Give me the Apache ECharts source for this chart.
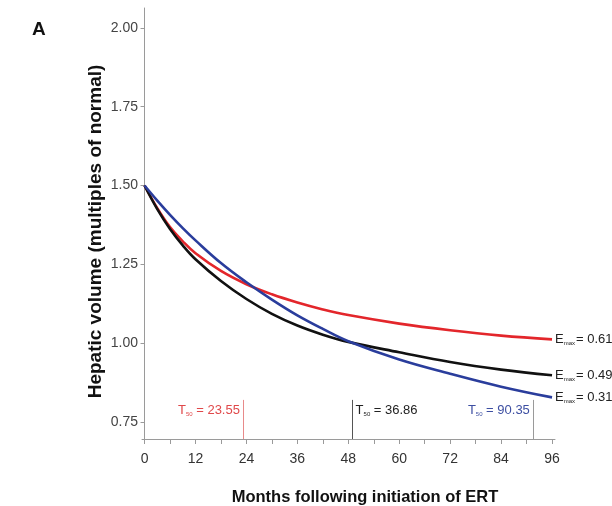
<!DOCTYPE html>
<html lang="en">
<head>
<meta charset="UTF-8">
<title>Hepatic volume Emax model</title>
<style>
  html, body { margin: 0; padding: 0; background: #fff; }
  #main { width: 612px; height: 506px; }
</style>
</head>
<body>
<div id="main"></div>
<script src="https://cdn.jsdelivr.net/npm/echarts@6/dist/echarts.min.js"></script>
<script>
// values
const months = [0, 3, 6, 9, 12, 18, 24, 30, 36, 42, 48, 60, 72, 84, 96];
const redVol   = [1.50, 1.428, 1.368, 1.323, 1.285, 1.229, 1.187, 1.155, 1.129, 1.107, 1.089, 1.062, 1.041, 1.024, 1.012];
const blackVol = [1.50, 1.425, 1.362, 1.310, 1.266, 1.197, 1.140, 1.093, 1.056, 1.027, 1.004, 0.971, 0.940, 0.916, 0.898];
const blueVol  = [1.50, 1.452, 1.407, 1.365, 1.326, 1.254, 1.193, 1.138, 1.088, 1.045, 1.006, 0.948, 0.903, 0.862, 0.828];

const emaxLabels = ['0.61', '0.49', '0.31'];
const t50Labels = ['23.55', '36.86', '90.35'];
const t50Marks = [23.3, 48.9, 91.6];   // where the marker lines sit on the x axis
const t50Top = 0.82;
const t50TextY = 0.788;

const yTicks = [0.75, 1.00, 1.25, 1.50, 1.75, 2.00];
const xLabels = [0, 12, 24, 36, 48, 60, 72, 84, 96];
const xTicks = [0, 6, 12, 18, 24, 30, 36, 42, 48, 54, 60, 66, 72, 78, 84, 90, 96];

const yMin = 0.696, yMax = 2.063;
const SANS = "'Liberation Sans', Arial, sans-serif";

function pairs(vals) {
    return months.map((m, i) => [m, vals[i]]);
}

function makeSeries(name, vals, color, textColor, markColor, idx, side) {
    return {
        name: name,
        type: 'line',
        data: pairs(vals),
        smooth: 0.4,
        symbol: 'none',
        lineStyle: { color: color, width: 2.6 },
        endLabel: {
            show: true,
            distance: 3,
            formatter: '{e|E}{s|max}{v|= ' + emaxLabels[idx] + '}',
            rich: {
                e: { fontSize: 13, fontFamily: SANS, color: '#222' },
                s: { fontSize: 6, fontFamily: SANS, color: '#222', padding: [8, 1, 0, 0] },
                v: { fontSize: 13, fontFamily: SANS, color: '#222' }
            }
        },
        markLine: {
            silent: true,
            symbol: 'none',
            label: { show: false },
            lineStyle: { color: markColor, width: 1, type: 'solid' },
            data: [[{ coord: [t50Marks[idx], yMin] }, { coord: [t50Marks[idx], t50Top] }]]
        },
        markPoint: {
            silent: true,
            symbol: 'circle',
            symbolSize: 1,
            itemStyle: { color: 'rgba(0,0,0,0)' },
            label: {
                show: true,
                position: side,
                distance: 3,
                formatter: '{t|T}{s|50}{v| = ' + t50Labels[idx] + '}',
                rich: {
                    t: { fontSize: 13, fontFamily: SANS, color: textColor },
                    s: { fontSize: 6, fontFamily: SANS, color: textColor, padding: [8, 0, 0, 0] },
                    v: { fontSize: 13, fontFamily: SANS, color: textColor }
                }
            },
            data: [{ coord: [t50Marks[idx], t50TextY] }]
        }
    };
}

const chart = echarts.init(document.getElementById('main'));
chart.setOption({
    backgroundColor: '#fff',
    animation: false,
    title: {
        text: 'A',
        left: 27,
        top: 15,
        textStyle: { fontSize: 19, fontWeight: 'bold', fontFamily: SANS, color: '#111' }
    },
    grid: { left: 142, right: 57, top: 8, bottom: 67, outerBoundsMode: 'none' },
    xAxis: {
        type: 'value',
        min: -0.6,
        max: 96.7,
        name: 'Months following initiation of ERT',
        nameLocation: 'middle',
        nameGap: 50,
        nameMoveOverlap: false,
        nameTextStyle: {
            fontSize: 16.5, fontWeight: 'bold', fontFamily: SANS, color: '#111',
            padding: [0, 0, 0, 33]
        },
        axisLine: { show: true, lineStyle: { color: '#9a9a9a', width: 1 } },
        axisTick: { show: true, length: 5, customValues: xTicks, lineStyle: { color: '#9a9a9a' } },
        axisLabel: {
            customValues: xLabels,
            fontSize: 14, fontFamily: SANS, color: '#333', margin: 13
        },
        splitLine: { show: false }
    },
    yAxis: {
        type: 'value',
        min: yMin,
        max: yMax,
        name: 'Hepatic volume (multiples of normal)',
        nameLocation: 'middle',
        nameGap: 37,
        nameMoveOverlap: false,
        nameTextStyle: {
            fontSize: 19, fontWeight: 'bold', fontFamily: SANS, color: '#111',
            padding: [0, 16, 0, 0]
        },
        axisLine: { show: true, lineStyle: { color: '#9a9a9a', width: 1 } },
        axisTick: { show: true, length: 4, customValues: yTicks, lineStyle: { color: '#9a9a9a' } },
        axisLabel: {
            customValues: yTicks,
            formatter: v => v.toFixed(2),
            fontSize: 14, fontFamily: SANS, color: '#444', margin: 4
        },
        splitLine: { show: false }
    },
    series: [
        makeSeries('red', redVol, '#e3262b', '#e0484a', '#e88a8a', 0, 'left'),
        makeSeries('black', blackVol, '#111111', '#222222', '#555555', 1, 'right'),
        makeSeries('blue', blueVol, '#2a3d9c', '#3d4fa2', '#9a9a9a', 2, 'left')
    ]
});
</script>
</body>
</html>
